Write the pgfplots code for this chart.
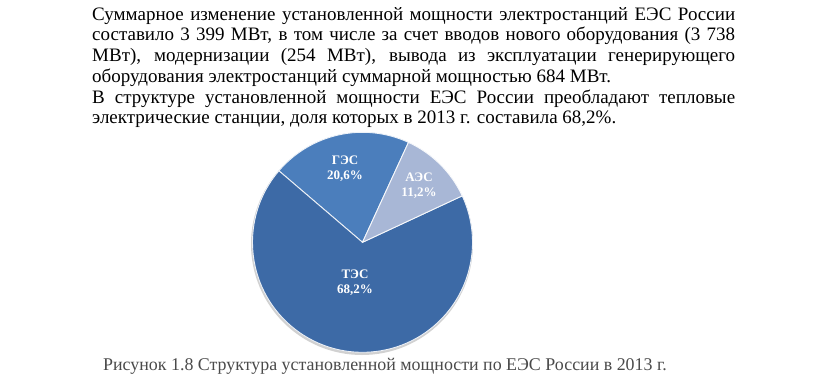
\documentclass[border=0pt]{standalone}
\usepackage{pgfplots}
\pgfplotsset{compat=1.18}
\usepackage{fontspec}
\setmainfont{Liberation Serif}
\definecolor{tes}{HTML}{3D6AA6}
\definecolor{ges}{HTML}{4B7EBC}
\definecolor{aes}{HTML}{A8B7D6}
\definecolor{cap}{HTML}{4A4A4A}
\begin{document}
\begin{tikzpicture}
% shares of installed capacity, %
\def\vGES{20.6}\def\vTES{68.2}\def\vAES{11.2}
\pgfmathsetmacro\aA{65.3}
\pgfmathsetmacro\aB{\aA+3.6*\vGES}
\pgfmathsetmacro\aC{\aB+3.6*\vTES}
\pgfmathsetmacro\aD{\aC+3.6*\vAES}
\begin{axis}[hide axis, scale only axis, width=816pt, height=376pt,
  xmin=0, xmax=816, ymin=0, ymax=376, y dir=reverse, clip=false]
\addplot[draw=none, forget plot] coordinates {(0,0) (816,376)};
% text
\node[anchor=base west, inner sep=0pt] at (axis cs:92,20) {\parbox[t]{643pt}{\fontsize{19}{20.8}\selectfont
Суммарное изменение установленной мощности электростанций ЕЭС России\linebreak
составило 3 399 МВт, в том числе за счет вводов нового оборудования (3 738\linebreak
МВт), модернизации (254 МВт), вывода из эксплуатации генерирующего\linebreak
оборудования электростанций суммарной мощностью 684 МВт.}};
\node[anchor=base west, inner sep=0pt] at (axis cs:92,103) {\parbox[t]{643pt}{\fontsize{19}{20.8}\selectfont
В структуре установленной мощности ЕЭС России преобладают тепловые\linebreak
электрические станции, доля которых в 2013 г. составила 68,2\%.}};
% pie shadow
\fill[black!18] (axis cs:362,244) circle[radius=111pt];
% pie
\fill[ges, draw=white!90!ges, line width=0.9pt] (axis cs:362.5,242.3) -- ++(\aA:110pt) arc[start angle=\aA, end angle=\aB, radius=110pt] -- cycle;
\fill[tes, draw=white!90!tes, line width=0.9pt] (axis cs:362.5,242.3) -- ++(\aB:110pt) arc[start angle=\aB, end angle=\aC, radius=110pt] -- cycle;
\fill[aes, draw=white!90!aes, line width=0.9pt] (axis cs:362.5,242.3) -- ++(\aC:110pt) arc[start angle=\aC, end angle=\aD, radius=110pt] -- cycle;
% labels
\node[font=\bfseries\fontsize{13}{15}\selectfont, text=white, align=center] at (axis cs:345,169) {ГЭС\\20,6\%};
\node[font=\bfseries\fontsize{13}{15}\selectfont, text=white, align=center] at (axis cs:419,186) {АЭС\\11,2\%};
\node[font=\bfseries\fontsize{13}{15}\selectfont, text=white, align=center] at (axis cs:355,283) {ТЭС\\68,2\%};
% caption
\node[anchor=base west, inner sep=0pt, text=cap, font=\fontsize{17.9}{20}\selectfont] at (axis cs:103,370) {Рисунок 1.8 Структура установленной мощности по ЕЭС России в 2013 г.};
\end{axis}
\end{tikzpicture}
\end{document}
